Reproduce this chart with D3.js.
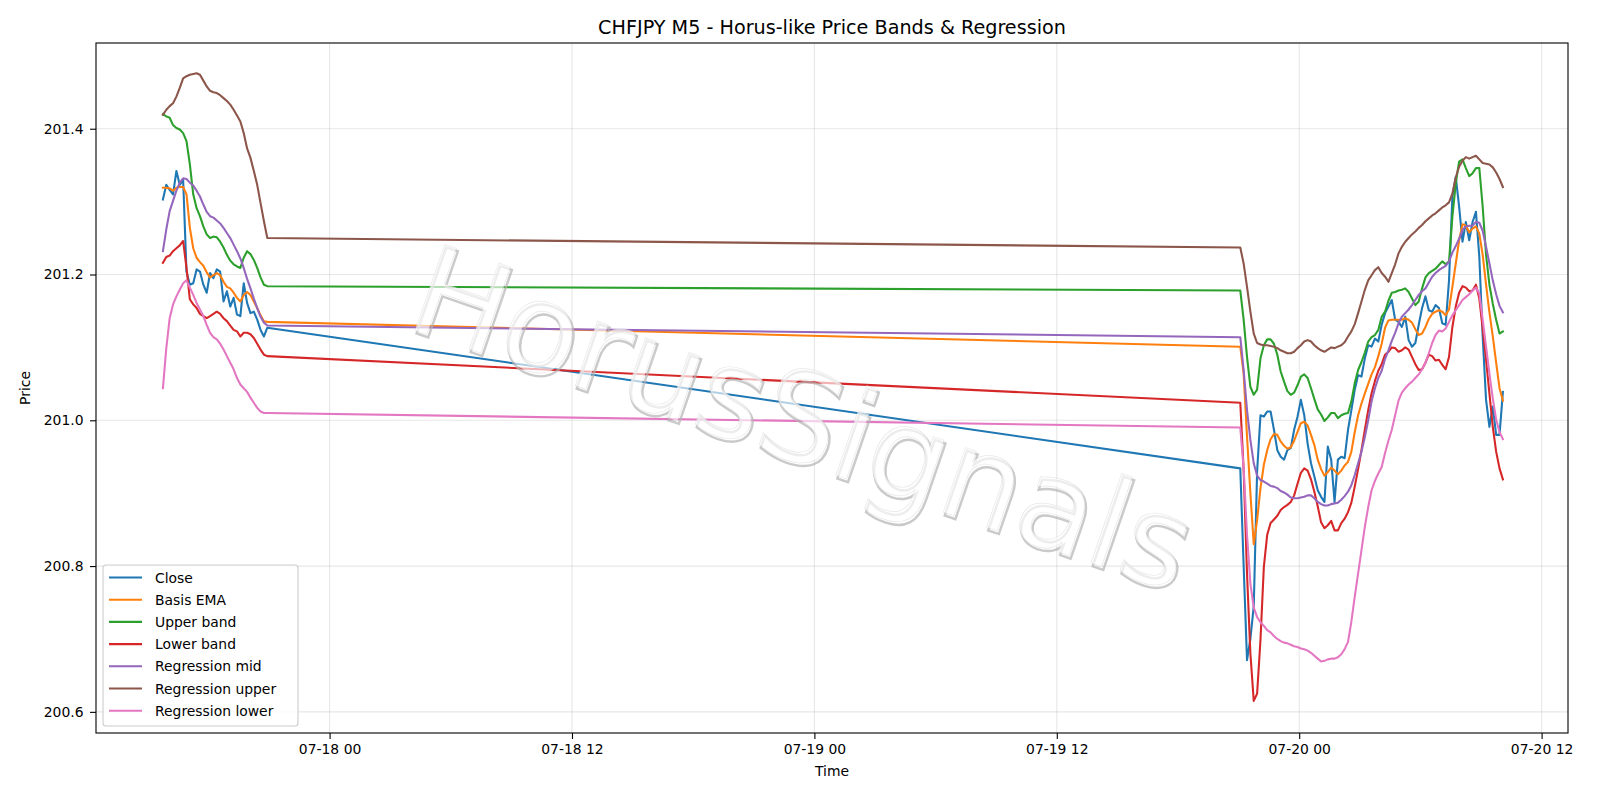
<!DOCTYPE html>
<html>
<head>
<meta charset="utf-8">
<script src="https://cdn.jsdelivr.net/npm/d3@7"></script>
<style>
body { margin: 0; background: #fff; }
svg { font-family: "DejaVu Sans", sans-serif; }
</style>
</head>
<body>
<script>
// bar grid: two sessions of 10-minute samples with the weekend gap between them
var fridayStart = "2025-07-17T15:45:00Z";
var mondayStart = "2025-07-19T21:05:00Z";
var stepMinutes = 10;
var fridayCount = 32;
var mondayCount = 79;

var seriesNames = ["Close", "Basis EMA", "Upper band", "Lower band", "Regression mid", "Regression upper", "Regression lower"];
var seriesColors = ["#1f77b4", "#ff7f0e", "#2ca02c", "#d62728", "#9467bd", "#8c564b", "#e377c2"];

// values: first 32 = Friday session, next 79 = Sunday/Monday session
var closeVals = [
    201.303, 201.323, 201.316, 201.310, 201.342, 201.323, 201.330, 201.204, 201.186, 201.188, 201.207, 201.204, 201.186, 201.175, 201.202, 201.195,
    201.207, 201.204, 201.163, 201.177, 201.156, 201.168, 201.145, 201.143, 201.188, 201.161, 201.147, 201.149, 201.138, 201.124, 201.115, 201.127,
    200.934, 200.800, 200.671, 200.700, 200.745, 200.930, 201.007, 201.005, 201.012, 201.012, 200.987, 200.959, 200.950, 200.946, 200.959, 200.962,
    200.987, 201.005, 201.028, 201.007, 200.968, 200.941, 200.923, 200.904, 200.895, 200.888, 200.964, 200.946, 200.888, 200.946, 200.950, 200.948,
    200.987, 201.014, 201.042, 201.062, 201.060, 201.085, 201.103, 201.101, 201.112, 201.108, 201.131, 201.147, 201.156, 201.165, 201.138, 201.135,
    201.128, 201.142, 201.110, 201.101, 201.106, 201.131, 201.154, 201.170, 201.151, 201.149, 201.158, 201.154, 201.133, 201.131, 201.192, 201.307,
    201.334, 201.293, 201.245, 201.272, 201.247, 201.272, 201.286, 201.224, 201.115, 201.028, 200.991, 201.019, 200.980, 200.980, 201.039
];
var basisEma = [
    201.319, 201.319, 201.318, 201.315, 201.319, 201.320, 201.320, 201.310, 201.264, 201.236, 201.223, 201.217, 201.212, 201.203, 201.196, 201.199,
    201.202, 201.199, 201.190, 201.183, 201.181, 201.175, 201.168, 201.163, 201.172, 201.176, 201.172, 201.163, 201.154, 201.144, 201.136, 201.135,
    201.101, 201.064, 200.978, 200.900, 200.830, 200.863, 200.907, 200.939, 200.959, 200.974, 200.981, 200.980, 200.971, 200.965, 200.961, 200.963,
    200.972, 200.984, 200.996, 200.998, 200.993, 200.980, 200.966, 200.946, 200.933, 200.924, 200.929, 200.935, 200.931, 200.926, 200.931, 200.938,
    200.943, 200.957, 200.984, 201.007, 201.023, 201.037, 201.050, 201.063, 201.073, 201.088, 201.105, 201.127, 201.137, 201.138, 201.138, 201.138,
    201.138, 201.140, 201.138, 201.134, 201.125, 201.117, 201.119, 201.128, 201.139, 201.146, 201.149, 201.151, 201.149, 201.144, 201.152, 201.183,
    201.215, 201.247, 201.269, 201.267, 201.258, 201.263, 201.266, 201.256, 201.227, 201.186, 201.148, 201.115, 201.079, 201.044, 201.027
];
var upperBand = [
    201.420, 201.417, 201.415, 201.405, 201.401, 201.399, 201.394, 201.383, 201.351, 201.310, 201.291, 201.280, 201.266, 201.255, 201.250, 201.252,
    201.251, 201.245, 201.237, 201.227, 201.219, 201.214, 201.211, 201.209, 201.223, 201.232, 201.228, 201.220, 201.209, 201.196, 201.186, 201.184,
    201.178, 201.138, 201.087, 201.046, 201.035, 201.042, 201.085, 201.103, 201.111, 201.111, 201.105, 201.090, 201.067, 201.053, 201.040, 201.035,
    201.038, 201.048, 201.060, 201.063, 201.058, 201.044, 201.029, 201.015, 201.008, 200.999, 201.004, 201.010, 201.010, 201.003, 201.007, 201.009,
    201.010, 201.026, 201.051, 201.069, 201.080, 201.093, 201.108, 201.114, 201.117, 201.124, 201.142, 201.149, 201.164, 201.175, 201.176, 201.178,
    201.179, 201.181, 201.176, 201.167, 201.158, 201.163, 201.181, 201.196, 201.202, 201.205, 201.208, 201.213, 201.218, 201.214, 201.218, 201.279,
    201.325, 201.355, 201.358, 201.346, 201.335, 201.339, 201.346, 201.346, 201.293, 201.227, 201.186, 201.160, 201.138, 201.119, 201.122
];
var lowerBand = [
    201.216, 201.224, 201.226, 201.232, 201.236, 201.240, 201.246, 201.209, 201.166, 201.159, 201.154, 201.146, 201.143, 201.140, 201.143, 201.146,
    201.149, 201.146, 201.140, 201.136, 201.130, 201.124, 201.122, 201.115, 201.120, 201.120, 201.118, 201.113, 201.105, 201.097, 201.090, 201.088,
    201.024, 200.932, 200.790, 200.680, 200.615, 200.625, 200.699, 200.799, 200.843, 200.859, 200.864, 200.869, 200.877, 200.881, 200.884, 200.888,
    200.897, 200.913, 200.928, 200.934, 200.931, 200.919, 200.902, 200.882, 200.860, 200.852, 200.856, 200.862, 200.849, 200.849, 200.859, 200.865,
    200.874, 200.887, 200.909, 200.933, 200.959, 200.987, 201.014, 201.037, 201.054, 201.068, 201.077, 201.090, 201.094, 201.100, 201.099, 201.094,
    201.096, 201.100, 201.097, 201.087, 201.077, 201.069, 201.070, 201.079, 201.090, 201.088, 201.082, 201.083, 201.076, 201.070, 201.087, 201.128,
    201.156, 201.175, 201.184, 201.182, 201.177, 201.178, 201.186, 201.167, 201.126, 201.083, 201.037, 200.991, 200.957, 200.934, 200.919
];
var regMid = [
    201.232, 201.262, 201.287, 201.301, 201.315, 201.326, 201.332, 201.331, 201.326, 201.322, 201.315, 201.307, 201.296, 201.286, 201.280, 201.278,
    201.274, 201.270, 201.264, 201.257, 201.250, 201.241, 201.232, 201.222, 201.209, 201.194, 201.181, 201.167, 201.154, 201.142, 201.134, 201.130,
    201.114, 201.069, 201.014, 200.973, 200.941, 200.924, 200.918, 200.916, 200.913, 200.910, 200.909, 200.907, 200.903, 200.901, 200.898, 200.894,
    200.893, 200.893, 200.894, 200.895, 200.897, 200.897, 200.893, 200.888, 200.885, 200.883, 200.883, 200.885, 200.886, 200.887, 200.891, 200.896,
    200.902, 200.911, 200.925, 200.941, 200.957, 200.977, 201.000, 201.026, 201.044, 201.058, 201.068, 201.084, 201.096, 201.109, 201.120, 201.133,
    201.142, 201.147, 201.152, 201.158, 201.165, 201.172, 201.177, 201.181, 201.189, 201.197, 201.202, 201.206, 201.209, 201.212, 201.218, 201.230,
    201.239, 201.249, 201.261, 201.266, 201.267, 201.267, 201.272, 201.271, 201.260, 201.238, 201.215, 201.192, 201.173, 201.157, 201.148
];
var regUpper = [
    201.419, 201.426, 201.431, 201.435, 201.444, 201.456, 201.469, 201.472, 201.474, 201.475, 201.476, 201.474, 201.466, 201.458, 201.452, 201.450,
    201.449, 201.446, 201.442, 201.438, 201.433, 201.426, 201.418, 201.410, 201.394, 201.373, 201.360, 201.342, 201.323, 201.298, 201.273, 201.250,
    201.237, 201.215, 201.183, 201.149, 201.119, 201.106, 201.104, 201.103, 201.103, 201.102, 201.101, 201.099, 201.096, 201.094, 201.092, 201.092,
    201.094, 201.099, 201.103, 201.108, 201.110, 201.108, 201.103, 201.099, 201.096, 201.094, 201.097, 201.100, 201.099, 201.101, 201.103, 201.107,
    201.115, 201.122, 201.132, 201.147, 201.163, 201.179, 201.192, 201.199, 201.206, 201.210, 201.202, 201.197, 201.190, 201.202, 201.214, 201.229,
    201.238, 201.245, 201.250, 201.255, 201.259, 201.264, 201.268, 201.273, 201.277, 201.281, 201.284, 201.288, 201.292, 201.295, 201.299, 201.311,
    201.333, 201.348, 201.356, 201.361, 201.359, 201.361, 201.363, 201.358, 201.353, 201.352, 201.351, 201.347, 201.340, 201.331, 201.320
];
var regLower = [
    201.044, 201.099, 201.140, 201.159, 201.170, 201.179, 201.188, 201.192, 201.182, 201.172, 201.161, 201.152, 201.143, 201.131, 201.120, 201.114,
    201.111, 201.105, 201.097, 201.088, 201.079, 201.070, 201.058, 201.049, 201.044, 201.039, 201.031, 201.024, 201.017, 201.012, 201.010, 201.010,
    200.990, 200.934, 200.843, 200.776, 200.743, 200.730, 200.723, 200.718, 200.712, 200.709, 200.704, 200.700, 200.697, 200.695, 200.694, 200.692,
    200.690, 200.689, 200.687, 200.686, 200.684, 200.681, 200.677, 200.673, 200.669, 200.670, 200.672, 200.673, 200.673, 200.675, 200.679, 200.686,
    200.696, 200.724, 200.758, 200.790, 200.822, 200.854, 200.881, 200.904, 200.917, 200.927, 200.936, 200.955, 200.972, 200.987, 201.007, 201.027,
    201.038, 201.044, 201.049, 201.053, 201.058, 201.063, 201.070, 201.079, 201.092, 201.106, 201.117, 201.123, 201.122, 201.126, 201.135, 201.144,
    201.151, 201.158, 201.165, 201.169, 201.173, 201.178, 201.182, 201.174, 201.138, 201.101, 201.064, 201.030, 201.001, 200.984, 200.974
];

var yTicks = [200.6, 200.8, 201.0, 201.2, 201.4];
var xTicks = ["2025-07-18T00:00:00Z", "2025-07-18T12:00:00Z", "2025-07-19T00:00:00Z",
              "2025-07-19T12:00:00Z", "2025-07-20T00:00:00Z", "2025-07-20T12:00:00Z"];

// time stamps of the bars
var times = [];
for (var i = 0; i < fridayCount; i++) times.push(new Date(+new Date(fridayStart) + i * stepMinutes * 60000));
for (var j = 0; j < mondayCount; j++) times.push(new Date(+new Date(mondayStart) + j * stepMinutes * 60000));

var allSeries = [closeVals, basisEma, upperBand, lowerBand, regMid, regUpper, regLower];

// layout
var svgWidth = 1600, svgHeight = 800;
var plot = { left: 96, right: 1568, top: 43, bottom: 733 };
var fs = 13.9;

var svg = d3.select("body").append("svg")
    .attr("width", svgWidth)
    .attr("height", svgHeight);

var x = d3.scaleUtc()
    .domain([new Date("2025-07-17T12:26:12Z"), new Date("2025-07-20T13:18:24Z")])
    .range([plot.left, plot.right]);
var y = d3.scaleLinear()
    .domain([200.571, 201.5176])
    .range([plot.bottom, plot.top]);

// grid
var grid = svg.append("g");
xTicks.forEach(function (t) {
    grid.append("line")
        .attr("x1", x(new Date(t))).attr("x2", x(new Date(t)))
        .attr("y1", plot.top).attr("y2", plot.bottom)
        .attr("stroke", "#b0b0b0").attr("stroke-opacity", 0.3).attr("stroke-width", 1.1);
});
yTicks.forEach(function (v) {
    grid.append("line")
        .attr("x1", plot.left).attr("x2", plot.right)
        .attr("y1", y(v)).attr("y2", y(v))
        .attr("stroke", "#b0b0b0").attr("stroke-opacity", 0.3).attr("stroke-width", 1.1);
});

// lines
var line = d3.line()
    .x(function (d) { return x(d.t); })
    .y(function (d) { return y(d.v); });

allSeries.forEach(function (vals, k) {
    var pts = vals.map(function (v, i) { return { t: times[i], v: v }; });
    svg.append("path")
        .datum(pts)
        .attr("d", line)
        .attr("fill", "none")
        .attr("stroke", seriesColors[k])
        .attr("stroke-width", 2.08)
        .attr("stroke-linejoin", "round")
        .attr("stroke-linecap", "square");
});

// watermark: white text with a soft grey offset edge
var wm = svg.append("g")
    .attr("transform", "translate(803,418) rotate(19)")
    .style("font-size", "125px");
wm.append("text")
    .attr("x", 2.5).attr("y", 2.5)
    .attr("text-anchor", "middle").attr("dominant-baseline", "central")
    .attr("fill", "none").attr("stroke", "#b4b4b4").attr("stroke-width", 2.4)
    .attr("stroke-opacity", 0.7)
    .text("HorusSignals");
wm.append("text")
    .attr("text-anchor", "middle").attr("dominant-baseline", "central")
    .attr("fill", "#fff").attr("fill-opacity", 0.65)
    .attr("stroke", "#d4d4d4").attr("stroke-width", 0.7).attr("stroke-opacity", 0.5)
    .text("HorusSignals");

// axes
var bottomAxis = d3.axisBottom(x)
    .tickValues(xTicks.map(function (t) { return new Date(t); }))
    .tickFormat(d3.utcFormat("%m-%d %H"))
    .tickSizeOuter(0).tickSize(6).tickPadding(5.5);
var leftAxis = d3.axisLeft(y)
    .tickValues(yTicks)
    .tickFormat(d3.format(".1f"))
    .tickSizeOuter(0).tickSize(6).tickPadding(6.5);

var gx = svg.append("g").attr("transform", "translate(0," + plot.bottom + ")").call(bottomAxis);
var gy = svg.append("g").attr("transform", "translate(" + plot.left + ",0)").call(leftAxis);
[gx, gy].forEach(function (g) {
    g.select(".domain").remove();
    g.selectAll(".tick line").attr("stroke", "#000").attr("stroke-width", 1.1);
    g.selectAll(".tick text").attr("fill", "#000")
        .style("font-family", "DejaVu Sans").style("font-size", fs + "px");
});

// spines
svg.append("rect")
    .attr("x", plot.left).attr("y", plot.top)
    .attr("width", plot.right - plot.left).attr("height", plot.bottom - plot.top)
    .attr("fill", "none").attr("stroke", "#000").attr("stroke-width", 1.1);

// titles
svg.append("text")
    .attr("x", (plot.left + plot.right) / 2).attr("y", 33.5)
    .attr("text-anchor", "middle")
    .style("font-size", "19.2px")
    .text("CHFJPY M5 - Horus-like Price Bands & Regression");
svg.append("text")
    .attr("x", (plot.left + plot.right) / 2).attr("y", 776)
    .attr("text-anchor", "middle")
    .style("font-size", fs + "px")
    .text("Time");
svg.append("text")
    .attr("transform", "translate(30," + ((plot.top + plot.bottom) / 2) + ") rotate(-90)")
    .attr("text-anchor", "middle")
    .style("font-size", fs + "px")
    .text("Price");

// legend
var legend = svg.append("g").attr("transform", "translate(103,565)");
legend.append("rect")
    .attr("width", 195).attr("height", 161)
    .attr("rx", 3).attr("ry", 3)
    .attr("fill", "#fff").attr("fill-opacity", 0.8)
    .attr("stroke", "#cccccc").attr("stroke-width", 1.1);
seriesNames.forEach(function (name, k) {
    var yy = 12.5 + k * 22.2;
    legend.append("line")
        .attr("x1", 6).attr("x2", 39)
        .attr("y1", yy).attr("y2", yy)
        .attr("stroke", seriesColors[k]).attr("stroke-width", 2.08);
    legend.append("text")
        .attr("x", 52).attr("y", yy)
        .attr("dominant-baseline", "central")
        .style("font-size", fs + "px")
        .text(name);
});
</script>
</body>
</html>
